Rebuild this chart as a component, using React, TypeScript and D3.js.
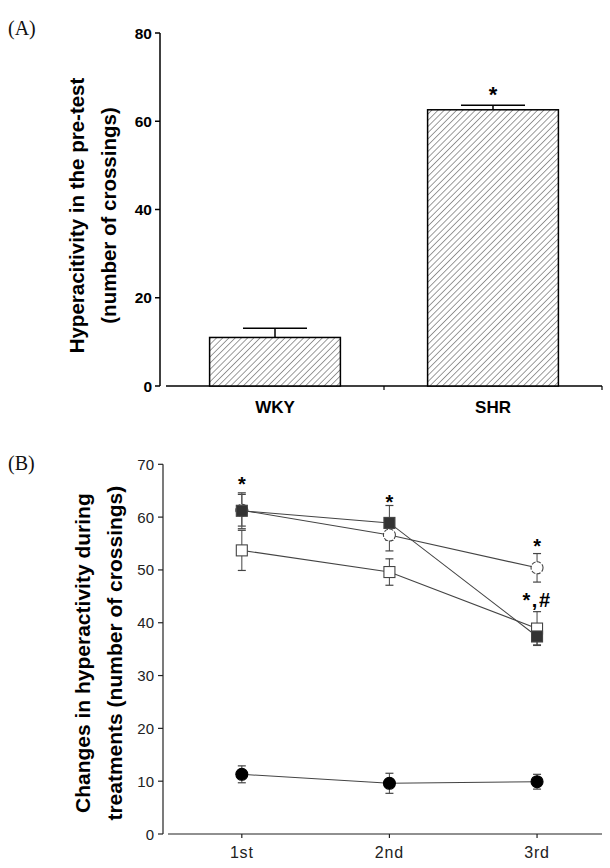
import React from "react";
import * as d3 from "d3";

const barCategories = ["WKY", "SHR"];
const barValues = [11.0, 62.6];
const barErrors = [2.1, 1.0];
const barTicks = [0, 20, 40, 60, 80];

const sessions = ["1st", "2nd", "3rd"];
const filledSquare = [61.2, 58.9, 37.4];
const filledSquareErr = [3.4, 3.3, 1.6];
const openCircle = [61.3, 56.6, 50.4];
const openCircleErr = [3.0, 3.0, 2.7];
const openSquare = [53.7, 49.6, 38.9];
const openSquareErr = [3.8, 2.5, 3.2];
const filledCircle = [11.3, 9.6, 9.9];
const filledCircleErr = [1.6, 1.9, 1.4];
const lineTicks = [0, 10, 20, 30, 40, 50, 60, 70];
const lineAnnotations = [
  { session: 0, value: 66.3, text: "*" },
  { session: 1, value: 62.9, text: "*" },
  { session: 2, value: 54.5, text: "*" },
  { session: 2, value: 44.3, text: "*,#" },
];

const SANS = "'Liberation Sans', Arial, sans-serif";
const SERIF = "'Liberation Serif', 'Times New Roman', serif";

export default function App() {
  // Panel A
  const xA = d3.scaleBand<string>().domain(barCategories).range([166, 602]).paddingInner(0.4).paddingOuter(0.2);
  const yA = d3.scaleLinear().domain([0, 80]).range([386, 33]);
  const bandA = d3.scaleBand<string>().domain(barCategories).range([166, 602]);

  // Panel B
  const xB = d3.scaleLinear().domain([0.5, 3.44]).range([168, 602]);
  const yB = d3.scaleLinear().domain([0, 70]).range([834, 464.3]);
  const lineGen = d3
    .line<number>()
    .x((_, i) => xB(i + 1))
    .y((d) => yB(d));

  const series = [
    { vals: openSquare, errs: openSquareErr, kind: "square", fill: "#fff" },
    { vals: openCircle, errs: openCircleErr, kind: "circle", fill: "#fff" },
    { vals: filledSquare, errs: filledSquareErr, kind: "square", fill: "#333" },
    { vals: filledCircle, errs: filledCircleErr, kind: "circle", fill: "#000" },
  ];

  return (
    <svg
      width={610}
      height={868}
      style={{ position: "absolute", left: 0, top: 0, background: "#fff" }}
    >
      <defs>
        <pattern id="hatch" patternUnits="userSpaceOnUse" width={4.4} height={4.4} patternTransform="rotate(45)">
          <rect width={4.4} height={4.4} fill="#fff" />
          <line x1={0} y1={0} x2={0} y2={4.4} stroke="#222" strokeWidth={0.9} />
        </pattern>
      </defs>

      {/* Panel A */}
      <text x={8} y={35} fontFamily={SERIF} fontSize={20} fill="#111">(A)</text>
      <text
        transform={`translate(84,${(yA(0) + yA(80)) / 2 + 6}) rotate(-90)`}
        textAnchor="middle"
        fontFamily={SANS}
        fontWeight="bold"
        fontSize={20.5}
      >
        <tspan x={0} dy={0}>Hyperacitivity in the pre-test</tspan>
        <tspan x={0} dy={32}>(number of crossings)</tspan>
      </text>
      <line x1={160} x2={160} y1={yA(80)} y2={yA(0)} stroke="#000" strokeWidth={1.5} />
      {barTicks.map((t) => (
        <g key={t}>
          <line x1={155} x2={160} y1={yA(t)} y2={yA(t)} stroke="#000" strokeWidth={1.5} />
          <text x={152} y={yA(t) + 5.5} textAnchor="end" fontFamily={SANS} fontWeight="bold" fontSize={15.5}>
            {t}
          </text>
        </g>
      ))}
      <line x1={166} x2={602} y1={yA(0)} y2={yA(0)} stroke="#000" strokeWidth={1.5} />
      {[...barCategories.slice(1).map((c) => bandA(c) as number), 602].map((x, i) => (
        <line key={i} x1={x} x2={x} y1={yA(0)} y2={yA(0) + 4} stroke="#000" strokeWidth={1.2} />
      ))}
      {barCategories.map((c, i) => {
        const x = xA(c) as number;
        const w = xA.bandwidth();
        const cx = x + w / 2;
        const top = yA(barValues[i]);
        const errTop = yA(barValues[i] + barErrors[i]);
        return (
          <g key={c}>
            <line x1={cx} x2={cx} y1={top} y2={errTop} stroke="#000" strokeWidth={1.5} />
            <line x1={cx - 32} x2={cx + 32} y1={errTop} y2={errTop} stroke="#000" strokeWidth={1.5} />
            <rect x={x} y={top} width={w} height={yA(0) - top} fill="url(#hatch)" stroke="#000" strokeWidth={1.5} />
            <text x={cx} y={413} textAnchor="middle" fontFamily={SANS} fontWeight="bold" fontSize={17}>
              {c}
            </text>
          </g>
        );
      })}
      <text
        x={(xA("SHR") as number) + xA.bandwidth() / 2}
        y={yA(barValues[1] + barErrors[1]) - 3}
        textAnchor="middle"
        fontFamily={SANS}
        fontWeight="bold"
        fontSize={22}
      >
        *
      </text>

      {/* Panel B */}
      <text x={8} y={470} fontFamily={SERIF} fontSize={20} fill="#111">(B)</text>
      <text
        transform={`translate(90,${(yB(0) + yB(70)) / 2 + 4}) rotate(-90)`}
        textAnchor="middle"
        fontFamily={SANS}
        fontWeight="bold"
        fontSize={21}
      >
        <tspan x={0} dy={0}>Changes in hyperactivity during</tspan>
        <tspan x={0} dy={32}>treatments (number of crossings)</tspan>
      </text>
      <line x1={163} x2={163} y1={yB(70)} y2={yB(0)} stroke="#222" strokeWidth={1.2} />
      {lineTicks.map((t) => (
        <g key={t}>
          <line x1={158} x2={163} y1={yB(t)} y2={yB(t)} stroke="#222" strokeWidth={1.2} />
          <text x={154} y={yB(t) + 5.5} textAnchor="end" fontFamily={SANS} fontSize={15} fill="#222">
            {t}
          </text>
        </g>
      ))}
      <line x1={168} x2={602} y1={yB(0)} y2={yB(0)} stroke="#222" strokeWidth={1.2} />
      {sessions.map((s, i) => (
        <g key={s}>
          <line x1={xB(i + 1)} x2={xB(i + 1)} y1={yB(0)} y2={yB(0) + 4} stroke="#222" strokeWidth={1.2} />
          <text x={xB(i + 1)} y={858} textAnchor="middle" fontFamily={SANS} fontSize={16} letterSpacing={0.8} fill="#222">
            {s}
          </text>
        </g>
      ))}

      {series.map((s, si) => (
        <path key={"l" + si} d={lineGen(s.vals) as string} fill="none" stroke="#444" strokeWidth={1.1} />
      ))}
      {series.map((s, si) =>
        s.vals.map((v, i) => {
          const cx = xB(i + 1);
          const y1 = yB(v + s.errs[i]);
          const y2 = yB(v - s.errs[i]);
          return (
            <g key={"e" + si + "-" + i}>
              <line x1={cx} x2={cx} y1={y1} y2={y2} stroke="#555" strokeWidth={1.1} />
              <line x1={cx - 4} x2={cx + 4} y1={y1} y2={y1} stroke="#444" strokeWidth={1.2} />
              <line x1={cx - 4} x2={cx + 4} y1={y2} y2={y2} stroke="#444" strokeWidth={1.2} />
            </g>
          );
        })
      )}
      {series.map((s, si) =>
        s.vals.map((v, i) => {
          const cx = xB(i + 1);
          const cy = yB(v);
          return s.kind === "square" ? (
            <rect
              key={"m" + si + "-" + i}
              x={cx - 5.5}
              y={cy - 5.5}
              width={11}
              height={11}
              fill={s.fill}
              stroke="#444"
              strokeWidth={1.1}
            />
          ) : (
            <circle
              key={"m" + si + "-" + i}
              cx={cx}
              cy={cy}
              r={6}
              fill={s.fill}
              stroke={s.fill === "#fff" ? "#444" : "#000"}
              strokeWidth={1.1}
              strokeDasharray={s.fill === "#fff" ? "4 1.5" : undefined}
            />
          );
        })
      )}
      {lineAnnotations.map((a, i) => (
        <text
          key={"a" + i}
          x={xB(a.session + 1)}
          y={yB(a.value) + 7}
          textAnchor="middle"
          fontFamily={SANS}
          fontWeight="bold"
          fontSize={20}
          letterSpacing={a.text.length > 1 ? 1.5 : 0}
        >
          {a.text}
        </text>
      ))}
    </svg>
  );
}
